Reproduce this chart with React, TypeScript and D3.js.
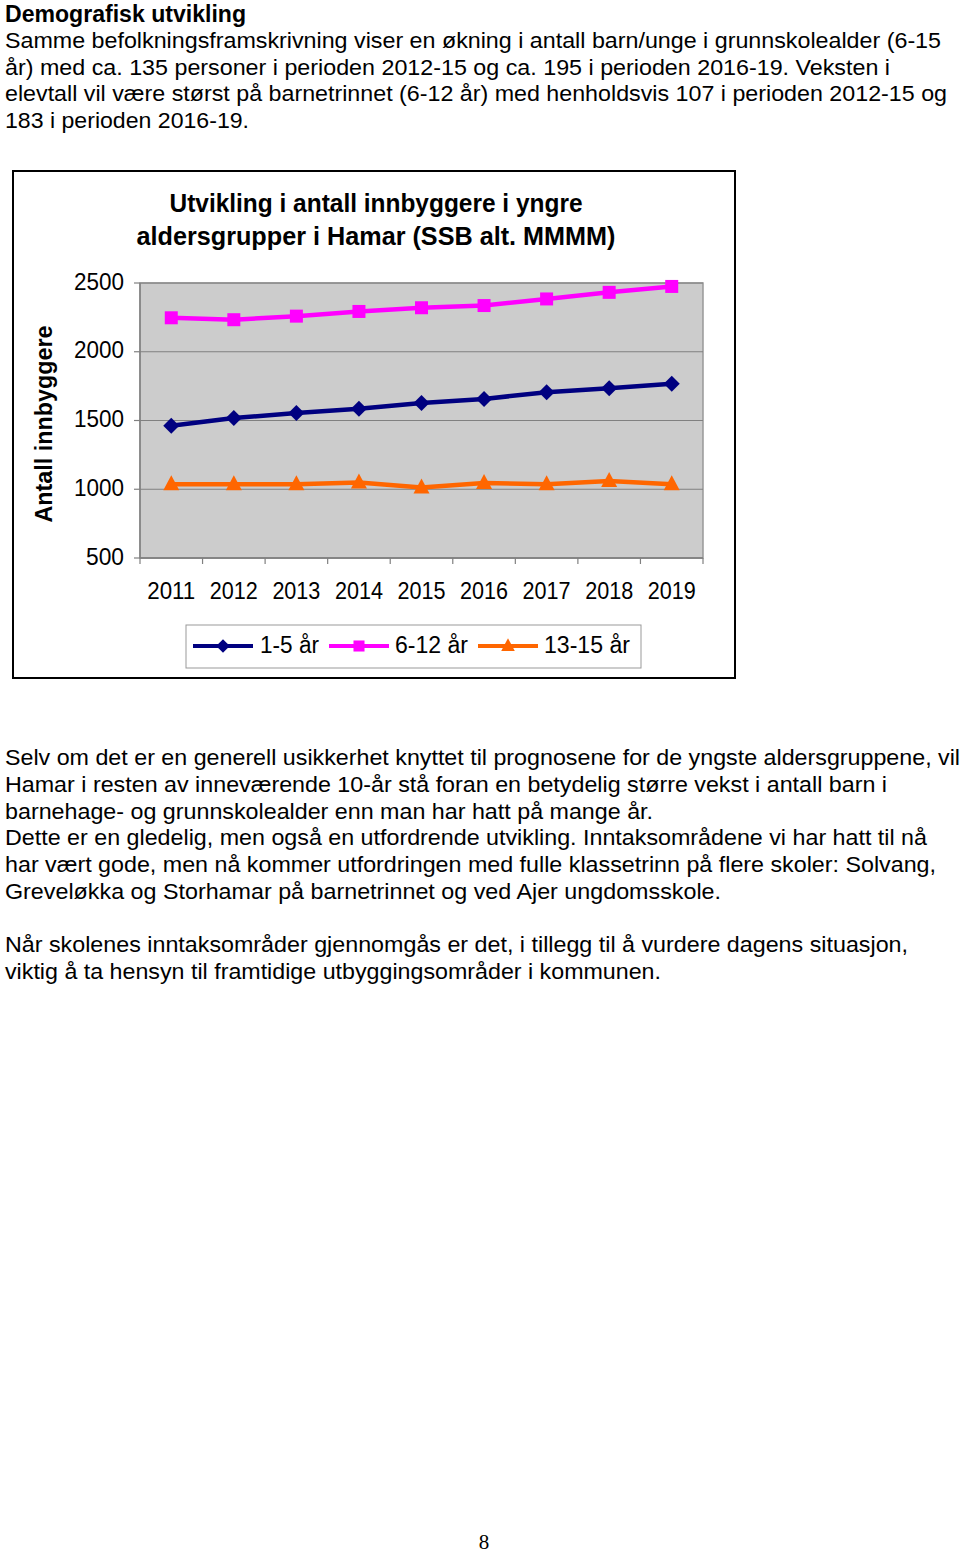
import React from 'react';
import * as d3 from 'd3';

const years = ['2011', '2012', '2013', '2014', '2015', '2016', '2017', '2018', '2019'];
const age1to5 = [1462, 1518, 1554, 1585, 1628, 1657, 1706, 1735, 1768];
const age6to12 = [2247, 2233, 2259, 2293, 2320, 2336, 2384, 2432, 2475];
const age13to15 = [1036, 1036, 1036, 1049, 1013, 1046, 1036, 1060, 1036];
const yTicks = [500, 1000, 1500, 2000, 2500];
const seriesNames = ['1-5 år', '6-12 år', '13-15 år'];

const headingText = 'Demografisk utvikling';
const introLines = [
  'Samme befolkningsframskrivning viser en økning i antall barn/unge i grunnskolealder (6-15',
  'år) med ca. 135 personer i perioden 2012-15 og ca. 195 i perioden 2016-19. Veksten i',
  'elevtall vil være størst på barnetrinnet (6-12 år) med henholdsvis 107 i perioden 2012-15 og',
  '183 i perioden 2016-19.',
];
const introWidths = [936, 885, 942, 244];
const outroLines = [
  'Selv om det er en generell usikkerhet knyttet til prognosene for de yngste aldersgruppene, vil',
  'Hamar i resten av inneværende 10-år stå foran en betydelig større vekst i antall barn i',
  'barnehage- og grunnskolealder enn man har hatt på mange år.',
  'Dette er en gledelig, men også en utfordrende utvikling. Inntaksområdene vi har hatt til nå',
  'har vært gode, men nå kommer utfordringen med fulle klassetrinn på flere skoler: Solvang,',
  'Greveløkka og Storhamar på barnetrinnet og ved Ajer ungdomsskole.',
  '',
  'Når skolenes inntaksområder gjennomgås er det, i tillegg til å vurdere dagens situasjon,',
  'viktig å ta hensyn til framtidige utbyggingsområder i kommunen.',
];
const outroWidths = [955, 882, 648, 922, 931, 716, 0, 903, 656];
const chartTitle = ['Utvikling i antall innbyggere i yngre', 'aldersgrupper i Hamar (SSB alt. MMMM)'];
const yAxisTitle = 'Antall innbyggere';

const FONT = 'Liberation Sans, Arial, Helvetica, sans-serif';
const colors = ['#000080', '#FF00FF', '#FF6600'];

const diamond = 'M0,-8L8,0L0,8L-8,0Z';
const square = 'M-6.5,-6.5H6.5V6.5H-6.5Z';
const triangle = 'M0,-9L8,6L-8,6Z';
const markers = [diamond, square, triangle];

export default function App() {
  const left = 140, right = 703, top = 283, bottom = 558;
  const x = d3.scaleBand<string>().domain(years).range([left, right]);
  const y = d3.scaleLinear().domain([500, 2500]).range([bottom, top]);
  const cx = (yr: string) => (x(yr) as number) + x.bandwidth() / 2;
  const series = [age1to5, age6to12, age13to15];
  const line = d3
    .line<number>()
    .x((_, i) => cx(years[i]))
    .y((v) => y(v));

  const legendItems = [
    { x0: 193, x1: 253, tx: 260, w: 59 },
    { x0: 329, x1: 389, tx: 395, w: 73 },
    { x0: 478, x1: 538, tx: 544, w: 86 },
  ];

  return (
    <svg
      width={960}
      height={1554}
      style={{ position: 'absolute', left: 0, top: 0, background: '#fff' }}
      fontFamily={FONT}
    >
      <rect x={0} y={0} width={960} height={1554} fill="#fff" />
      <text x={5} y={22} fontSize={23.5} fontWeight="bold" textLength={241} lengthAdjust="spacingAndGlyphs">
        {headingText}
      </text>
      {introLines.map((t, i) => (
        <text
          key={i}
          x={5}
          y={48 + i * 26.5}
          fontSize={22.5}
          textLength={introWidths[i]}
          lengthAdjust="spacingAndGlyphs"
        >
          {t}
        </text>
      ))}

      {/* chart frame */}
      <rect x={13} y={171} width={722} height={507} fill="#fff" stroke="#000" strokeWidth={2} />
      {chartTitle.map((t, i) => (
        <text
          key={i}
          x={376}
          y={212 + i * 33}
          fontSize={25}
          fontWeight="bold"
          textAnchor="middle"
          textLength={i === 0 ? 413 : 479}
          lengthAdjust="spacingAndGlyphs"
        >
          {t}
        </text>
      ))}

      {/* plot area */}
      <rect x={left} y={top} width={right - left} height={bottom - top} fill="#CCCCCC" stroke="#999" strokeWidth={1.5} />
      {yTicks.map((t) => (
        <g key={t}>
          <line x1={left} x2={right} y1={y(t)} y2={y(t)} stroke="#808080" strokeWidth={1.2} />
          <line x1={left - 6} x2={left} y1={y(t)} y2={y(t)} stroke="#808080" strokeWidth={1.2} />
          <text
            x={124}
            y={y(t) + 6.5}
            fontSize={23}
            textAnchor="end"
            fill="#000"
            textLength={t >= 1000 ? 50 : 38}
            lengthAdjust="spacingAndGlyphs"
          >
            {t}
          </text>
        </g>
      ))}
      <line x1={left} x2={left} y1={top} y2={bottom} stroke="#808080" strokeWidth={1.5} />
      <line x1={left} x2={right} y1={bottom} y2={bottom} stroke="#808080" strokeWidth={1.5} />
      {years.concat(['end']).map((yr, i) => {
        const xx = left + i * x.bandwidth();
        return <line key={yr} x1={xx} x2={xx} y1={bottom} y2={bottom + 6} stroke="#808080" strokeWidth={1.2} />;
      })}
      {years.map((yr) => (
        <text
          key={yr}
          x={cx(yr)}
          y={599}
          fontSize={23}
          textAnchor="middle"
          textLength={48}
          lengthAdjust="spacingAndGlyphs"
        >
          {yr}
        </text>
      ))}
      <text
        transform="translate(52,424) rotate(-90)"
        fontSize={23}
        fontWeight="bold"
        textAnchor="middle"
        textLength={197}
        lengthAdjust="spacingAndGlyphs"
      >
        {yAxisTitle}
      </text>

      {series.map((s, si) => (
        <g key={si}>
          <path d={line(s) || ''} fill="none" stroke={colors[si]} strokeWidth={4.5} strokeLinejoin="round" />
          {s.map((v, i) => (
            <path key={i} d={markers[si]} transform={`translate(${cx(years[i])},${y(v)})`} fill={colors[si]} />
          ))}
        </g>
      ))}

      {/* legend */}
      <rect x={186} y={625} width={455} height={43} fill="#fff" stroke="#999" strokeWidth={1} />
      {legendItems.map((it, i) => (
        <g key={i}>
          <line x1={it.x0} x2={it.x1} y1={646} y2={646} stroke={colors[i]} strokeWidth={4} />
          <path d={markers[i]} transform={`translate(${(it.x0 + it.x1) / 2},646) scale(0.85)`} fill={colors[i]} />
          <text x={it.tx} y={653} fontSize={23} textLength={it.w} lengthAdjust="spacingAndGlyphs">
            {seriesNames[i]}
          </text>
        </g>
      ))}

      {outroLines.map((t, i) =>
        t ? (
          <text
            key={i}
            x={5}
            y={765 + i * 26.75}
            fontSize={22.5}
            textLength={outroWidths[i]}
            lengthAdjust="spacingAndGlyphs"
          >
            {t}
          </text>
        ) : null
      )}

      <text x={484} y={1549} fontSize={21} textAnchor="middle" fontFamily="Liberation Serif, Times New Roman, serif">
        8
      </text>
    </svg>
  );
}
